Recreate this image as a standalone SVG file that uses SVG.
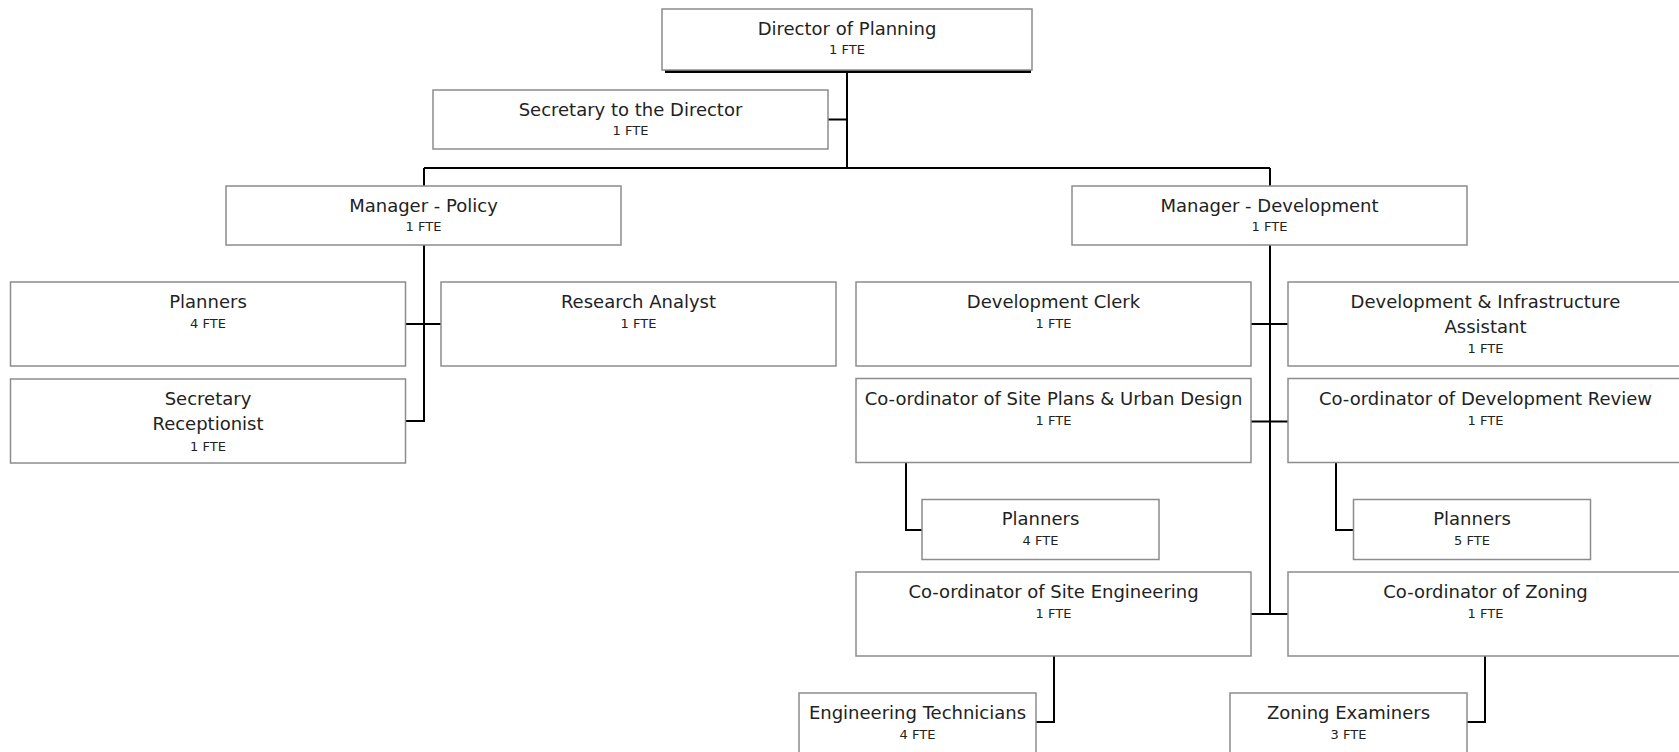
<svg xmlns="http://www.w3.org/2000/svg" width="1679" height="752" viewBox="0 0 1679 752">
<style>
.box{fill:#fff;stroke:#8c8c8c;stroke-width:1.5}
.t{font-family:"DejaVu Sans","Liberation Sans",sans-serif;font-size:18px;fill:#222;text-anchor:middle}
.f{font-family:"DejaVu Sans","Liberation Sans",sans-serif;font-size:13px;fill:#222;text-anchor:middle}
.c{fill:none;stroke:#000;stroke-width:2}
</style>
<rect width="1679" height="752" fill="#fff"/>
<g id="connectors">
<path class="c" d="M847 72V168M828 119.5H847M424 168H1270M424 168V186M1270 168V186"/>
<path class="c" d="M424 245V421H405.5M405.5 324H441"/>
<path class="c" d="M1270 245V614M1251 324H1288M1251 421.5H1288M1251 614H1288"/>
<path class="c" d="M906 462.5V530H922M1336 462.5V530H1353.5"/>
<path class="c" d="M1054 656V722H1036M1485 656V722H1467"/>
</g>
<g id="director">
<rect x="665" y="69" width="366" height="4" fill="#000"/>
<rect class="box" x="662" y="9" width="370" height="61"/>
<text class="t" x="847" y="35">Director of Planning</text>
<text class="f" x="847" y="53.5">1 FTE</text>
</g>
<g id="secretary-director">
<rect class="box" x="433" y="90" width="395" height="59"/>
<text class="t" x="630.5" y="116">Secretary to the Director</text>
<text class="f" x="630.5" y="135">1 FTE</text>
</g>
<g id="manager-policy">
<rect class="box" x="226" y="186" width="395" height="59"/>
<text class="t" x="423.5" y="212">Manager - Policy</text>
<text class="f" x="423.5" y="231">1 FTE</text>
</g>
<g id="manager-development">
<rect class="box" x="1072" y="186" width="395" height="59"/>
<text class="t" x="1269.5" y="212">Manager - Development</text>
<text class="f" x="1269.5" y="231">1 FTE</text>
</g>
<g id="planners-policy">
<rect class="box" x="10.5" y="282" width="395" height="84"/>
<text class="t" x="208" y="308">Planners</text>
<text class="f" x="208" y="328">4 FTE</text>
</g>
<g id="research-analyst">
<rect class="box" x="441" y="282" width="395" height="84"/>
<text class="t" x="638.5" y="308">Research Analyst</text>
<text class="f" x="638.5" y="328">1 FTE</text>
</g>
<g id="secretary-receptionist">
<rect class="box" x="10.5" y="379" width="395" height="84"/>
<text class="t" x="208" y="405">Secretary</text>
<text class="t" x="208" y="429.5">Receptionist</text>
<text class="f" x="208" y="450.5">1 FTE</text>
</g>
<g id="development-clerk">
<rect class="box" x="856" y="282" width="395" height="84"/>
<text class="t" x="1053.5" y="308">Development Clerk</text>
<text class="f" x="1053.5" y="328">1 FTE</text>
</g>
<g id="development-infrastructure-assistant">
<rect class="box" x="1288" y="282" width="395" height="84"/>
<text class="t" x="1485.5" y="308">Development &amp; Infrastructure</text>
<text class="t" x="1485.5" y="332.5">Assistant</text>
<text class="f" x="1485.5" y="353">1 FTE</text>
</g>
<g id="coordinator-site-plans">
<rect class="box" x="856" y="378.5" width="395" height="84"/>
<text class="t" x="1053.5" y="404.5">Co-ordinator of Site Plans &amp; Urban Design</text>
<text class="f" x="1053.5" y="424.5">1 FTE</text>
</g>
<g id="coordinator-development-review">
<rect class="box" x="1288" y="378.5" width="395" height="84"/>
<text class="t" x="1485.5" y="404.5">Co-ordinator of Development Review</text>
<text class="f" x="1485.5" y="424.5">1 FTE</text>
</g>
<g id="planners-site-plans">
<rect class="box" x="922" y="499.5" width="237" height="60"/>
<text class="t" x="1040.5" y="525">Planners</text>
<text class="f" x="1040.5" y="545">4 FTE</text>
</g>
<g id="planners-development-review">
<rect class="box" x="1353.5" y="499.5" width="237" height="60"/>
<text class="t" x="1472" y="525">Planners</text>
<text class="f" x="1472" y="545">5 FTE</text>
</g>
<g id="coordinator-site-engineering">
<rect class="box" x="856" y="572" width="395" height="84"/>
<text class="t" x="1053.5" y="598">Co-ordinator of Site Engineering</text>
<text class="f" x="1053.5" y="618">1 FTE</text>
</g>
<g id="coordinator-zoning">
<rect class="box" x="1288" y="572" width="395" height="84"/>
<text class="t" x="1485.5" y="598">Co-ordinator of Zoning</text>
<text class="f" x="1485.5" y="618">1 FTE</text>
</g>
<g id="engineering-technicians">
<rect class="box" x="799" y="693" width="237" height="62"/>
<text class="t" x="917.5" y="719">Engineering Technicians</text>
<text class="f" x="917.5" y="739">4 FTE</text>
</g>
<g id="zoning-examiners">
<rect class="box" x="1230" y="693" width="237" height="62"/>
<text class="t" x="1348.5" y="719">Zoning Examiners</text>
<text class="f" x="1348.5" y="739">3 FTE</text>
</g>
</svg>
